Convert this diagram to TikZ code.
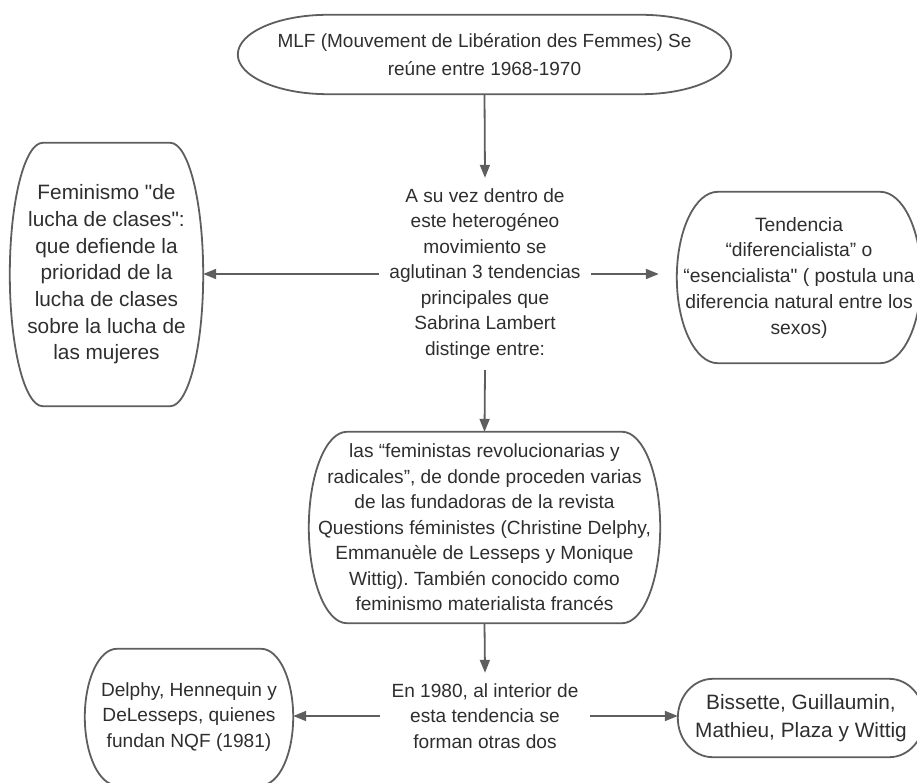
\documentclass[tikz,border=0pt]{standalone}
\usepackage{fontspec}
\setmainfont{Liberation Sans}[Ligatures=TeXOff]
\usetikzlibrary{arrows.meta,calc}
\definecolor{lc}{HTML}{5E5E5E}
\definecolor{tc}{HTML}{2E2E2E}
\frenchspacing
\newcommand{\termbox}[2]{%
  \draw[boxline] let \p1=(#1.north west), \p2=(#1.south east), \n1={(\y1-\y2)/2} in
  (\x1+#2,\y1) -- (\x2-#2,\y1)
  arc[start angle=90,end angle=-90,x radius=#2,y radius=\n1]
  -- (\x1+#2,\y2)
  arc[start angle=270,end angle=90,x radius=#2,y radius=\n1] -- cycle;}
\tikzset{
  boxline/.style={draw=lc, line width=1.8pt},
  arr/.style={draw=lc, line width=1.8pt, -{Triangle[length=13pt,width=10pt]}},
  txt/.style={align=center, inner sep=0pt, text=tc, font=\fontsize{19.1}{25.5}\selectfont},
}
\begin{document}
\begin{tikzpicture}[x=1pt,y=-1pt]
\useasboundingbox (0,0) rectangle (917,783);
% nodes
\node[txt, minimum width=493pt, minimum height=79pt, font=\fontsize{19}{27.5}\selectfont] (top) at (484.5,54.5)
  {MLF (Mouvement de Libération des Femmes) Se\\reúne entre 1968-1970};
\node[txt, minimum width=212pt, minimum height=192pt] (ctext) at (485,274)
  {A su vez dentro de\\este heterogéneo\\movimiento se\\aglutinan 3 tendencias\\principales que\\Sabrina Lambert\\distinge entre:};
\node[txt, minimum width=193pt, minimum height=263pt, font=\fontsize{20.8}{26.7}\selectfont] (lbox) at (106.5,274.5)
  {Feminismo "de\\lucha de clases":\\que defiende la\\prioridad de la\\lucha de clases\\sobre la lucha de\\las mujeres};
\node[txt, minimum width=244pt, minimum height=171pt, font=\fontsize{19.3}{25.75}\selectfont] (rbox) at (799,277.5)
  {\raisebox{4pt}{\begin{tabular}{@{}c@{}}Tendencia\\“diferencialista” o\\“esencialista" ( postula una\\diferencia natural entre los\\sexos)\end{tabular}}};
\node[txt, minimum width=351pt, minimum height=191pt] (mid) at (484.5,527.5)
  {las “feministas revolucionarias y\\radicales”, de donde proceden varias\\de las fundadoras de la revista\\Questions féministes (Christine Delphy,\\Emmanuèle de Lesseps y Monique\\Wittig). También conocido como\\feminismo materialista francés};
\node[txt, minimum width=210pt, minimum height=86pt] (btext) at (485,716)
  {En 1980, al interior de\\esta tendencia se\\forman otras dos};
\node[txt, minimum width=208pt, minimum height=136pt] (bl) at (189,717)
  {Delphy, Hennequin y\\DeLesseps, quienes\\fundan NQF (1981)};
\node[txt, minimum width=246pt, minimum height=78pt, font=\fontsize{20.8}{28}\selectfont] (br) at (801,718)
  {Bissette, Guillaumin,\\Mathieu, Plaza y Wittig};
% outlines
\termbox{top}{90pt}
\termbox{lbox}{33pt}
\termbox{rbox}{41pt}
\termbox{mid}{38pt}
\termbox{bl}{32pt}
\termbox{br}{35pt}
% connectors
\draw[arr] (top.south) -- (ctext.north);
\draw[arr] (ctext.west) -- (ctext.west -| lbox.east);
\draw[arr, shorten >=18pt] (ctext.east) -- (ctext.east -| rbox.west);
\draw[arr] (ctext.south) -- (mid.north);
\draw[arr] (mid.south) -- (btext.north);
\draw[arr] (btext.west) -- (btext.west -| bl.east);
\draw[arr] (btext.east) -- (btext.east -| br.west);
\end{tikzpicture}
\end{document}
